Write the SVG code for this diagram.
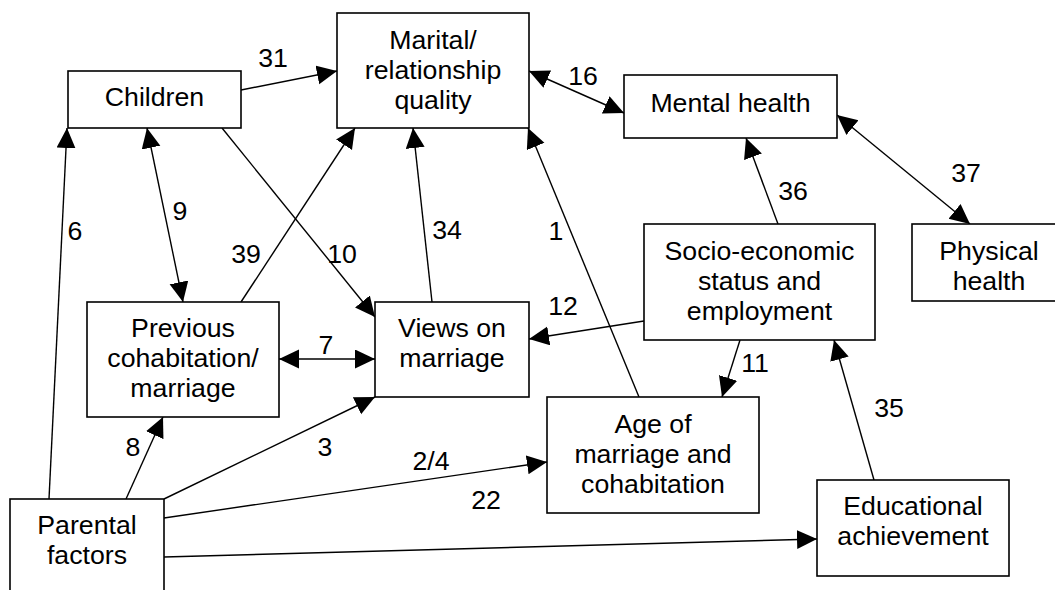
<svg xmlns="http://www.w3.org/2000/svg" width="1055" height="590" viewBox="0 0 1055 590">
  <defs>
    <marker id="head" markerUnits="userSpaceOnUse" markerWidth="21" markerHeight="20" refX="20" refY="9.5" orient="auto-start-reverse">
      <path d="M0,0 L20,9.5 L0,19 z" fill="#000"/>
    </marker>
    <style>
      .box { fill: #fff; stroke: #000; stroke-width: 1.6; }
      .lbl { font-family: "Liberation Sans", Arial, sans-serif; font-size: 26.7px; fill: #000; text-anchor: middle; }
      .edge { stroke: #000; stroke-width: 1.4; fill: none; }
      .one { marker-end: url(#head); }
      .two { marker-start: url(#head); marker-end: url(#head); }
    </style>
  </defs>
  <rect width="1055" height="590" fill="#fff"/>

  <g id="connectors">
    <!-- 31: Children -> Marital -->
    <line class="edge one" x1="241" y1="90" x2="337" y2="71"/>
    <text class="lbl" x="273" y="67">31</text>
    <!-- 16: Marital <-> Mental health -->
    <line class="edge two" x1="529" y1="71" x2="624" y2="113"/>
    <text class="lbl" x="583" y="85">16</text>
    <!-- 37: Mental health <-> Physical health -->
    <line class="edge two" x1="837" y1="115" x2="970" y2="224"/>
    <text class="lbl" x="966" y="182">37</text>
    <!-- 36: Socio-economic -> Mental health -->
    <line class="edge one" x1="778" y1="224" x2="746" y2="138"/>
    <text class="lbl" x="793" y="200">36</text>
    <!-- 12: Socio-economic -> Views -->
    <line class="edge one" x1="644" y1="321" x2="529" y2="339"/>
    <text class="lbl" x="563" y="315">12</text>
    <!-- 11: Socio-economic -> Age -->
    <line class="edge one" x1="740" y1="340" x2="722" y2="397"/>
    <text class="lbl" x="755" y="372">11</text>
    <!-- 1: Age -> Marital -->
    <line class="edge one" x1="639" y1="397" x2="528" y2="128"/>
    <text class="lbl" x="556" y="240">1</text>
    <!-- 35: Educational -> Socio-economic -->
    <line class="edge one" x1="874" y1="480" x2="834" y2="340"/>
    <text class="lbl" x="889" y="417">35</text>
    <!-- 22: Parental -> Educational -->
    <line class="edge one" x1="164" y1="557" x2="817" y2="539"/>
    <text class="lbl" x="486" y="509">22</text>
    <!-- 2/4: Parental -> Age -->
    <line class="edge one" x1="164" y1="518" x2="547" y2="462"/>
    <text class="lbl" x="431" y="470">2/4</text>
    <!-- 3: Parental -> Views -->
    <line class="edge one" x1="164" y1="499" x2="375" y2="397"/>
    <text class="lbl" x="325" y="456">3</text>
    <!-- 8: Parental -> Previous -->
    <line class="edge one" x1="126" y1="499" x2="163" y2="417"/>
    <text class="lbl" x="133" y="456">8</text>
    <!-- 6: Parental -> Children -->
    <line class="edge one" x1="49" y1="499" x2="67" y2="128"/>
    <text class="lbl" x="75" y="240">6</text>
    <!-- 9: Children <-> Previous -->
    <line class="edge two" x1="147" y1="128" x2="183" y2="302"/>
    <text class="lbl" x="180" y="220">9</text>
    <!-- 10: Children -> Views -->
    <line class="edge one" x1="222" y1="128" x2="375" y2="317"/>
    <text class="lbl" x="342" y="263">10</text>
    <!-- 39: Previous -> Marital -->
    <line class="edge one" x1="241" y1="302" x2="355" y2="128"/>
    <text class="lbl" x="246" y="263">39</text>
    <!-- 34: Views -> Marital -->
    <line class="edge one" x1="432" y1="302" x2="413" y2="128"/>
    <text class="lbl" x="447" y="239">34</text>
    <!-- 7: Previous <-> Views -->
    <line class="edge two" x1="279" y1="359" x2="375" y2="359"/>
    <text class="lbl" x="326" y="354">7</text>
  </g>

  <g id="children">
    <rect class="box" x="68" y="71" width="173" height="57"/>
    <text class="lbl" x="154.5" y="106">Children</text>
  </g>
  <g id="marital">
    <rect class="box" x="337" y="13" width="192" height="115"/>
    <text class="lbl" x="433" y="49">Marital/</text>
    <text class="lbl" x="433" y="79">relationship</text>
    <text class="lbl" x="433" y="109">quality</text>
  </g>
  <g id="mental-health">
    <rect class="box" x="624" y="75" width="213" height="63"/>
    <text class="lbl" x="730.5" y="112">Mental health</text>
  </g>
  <g id="physical-health">
    <rect class="box" x="912" y="224" width="154" height="77"/>
    <text class="lbl" x="989" y="260">Physical</text>
    <text class="lbl" x="989" y="290">health</text>
  </g>
  <g id="socio-economic">
    <rect class="box" x="644" y="224" width="231" height="116"/>
    <text class="lbl" x="759.5" y="260">Socio-economic</text>
    <text class="lbl" x="759.5" y="290">status and</text>
    <text class="lbl" x="759.5" y="320">employment</text>
  </g>
  <g id="previous">
    <rect class="box" x="87" y="302" width="192" height="115"/>
    <text class="lbl" x="183" y="337">Previous</text>
    <text class="lbl" x="183" y="367">cohabitation/</text>
    <text class="lbl" x="183" y="397">marriage</text>
  </g>
  <g id="views">
    <rect class="box" x="375" y="302" width="154" height="95"/>
    <text class="lbl" x="452" y="337">Views on</text>
    <text class="lbl" x="452" y="367">marriage</text>
  </g>
  <g id="age">
    <rect class="box" x="547" y="397" width="212" height="116"/>
    <text class="lbl" x="653" y="433">Age of</text>
    <text class="lbl" x="653" y="463">marriage and</text>
    <text class="lbl" x="653" y="493">cohabitation</text>
  </g>
  <g id="educational">
    <rect class="box" x="817" y="480" width="192" height="96"/>
    <text class="lbl" x="913" y="515">Educational</text>
    <text class="lbl" x="913" y="545">achievement</text>
  </g>
  <g id="parental">
    <rect class="box" x="10" y="499" width="154" height="110"/>
    <text class="lbl" x="87" y="534">Parental</text>
    <text class="lbl" x="87" y="564">factors</text>
  </g>
</svg>
